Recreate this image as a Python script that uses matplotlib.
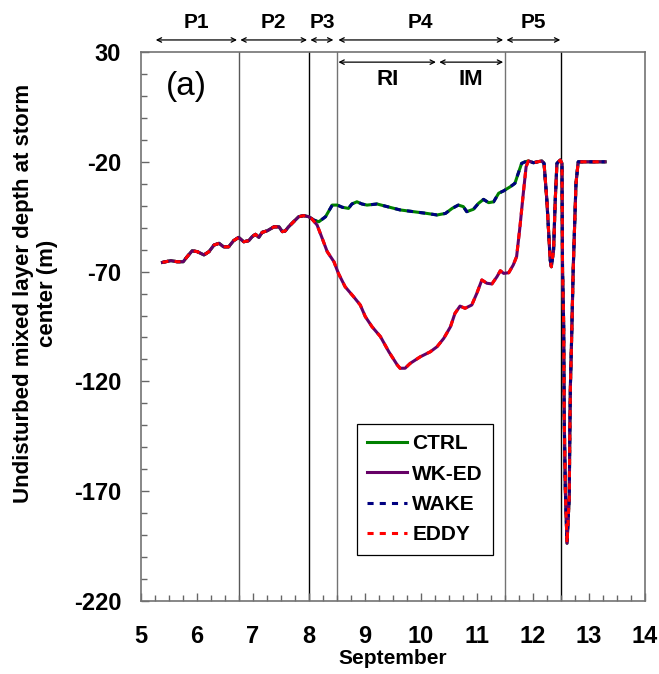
import numpy as np
import matplotlib
matplotlib.use("Agg")
import matplotlib.pyplot as plt
from matplotlib.ticker import MultipleLocator

plt.rcParams['font.family'] = ['Liberation Sans', 'DejaVu Sans']
plt.rcParams['axes.unicode_minus'] = False

# ---------------------------------------------------------------
# data (day of September, depth in m)
# ---------------------------------------------------------------
# common part before the split (5.4 - 8.0)
early_day = [5.39, 5.54, 5.65, 5.76, 5.83, 5.92, 6.01, 6.13, 6.22, 6.31, 6.40,
             6.48, 6.57, 6.66, 6.75, 6.84, 6.93, 6.99, 7.05, 7.11, 7.17, 7.26,
             7.38, 7.47, 7.53, 7.58, 7.64, 7.73, 7.82, 7.91, 8.00, 8.05]
early_val = [-65.8, -65.0, -65.5, -65.5, -63.2, -60.5, -60.9, -62.4, -60.9, -57.9,
             -57.1, -58.7, -58.7, -55.9, -54.4, -56.4, -55.9, -54.1, -53.0, -54.4,
             -52.1, -51.4, -49.6, -49.6, -51.8, -51.5, -49.6, -47.3, -45.0, -44.5,
             -45.0, -45.8]

# CTRL / WAKE branch (upper)
upper_day = [8.09, 8.18, 8.30, 8.42, 8.51, 8.60, 8.71, 8.77, 8.86, 8.95, 9.04,
             9.22, 9.40, 9.63, 9.87, 10.11, 10.29, 10.44, 10.56, 10.67, 10.76,
             10.82, 10.94, 11.03, 11.12, 11.21, 11.30, 11.39, 11.48, 11.60,
             11.68, 11.74, 11.80, 11.86]
upper_val = [-46.5, -47.3, -45.0, -39.7, -39.7, -40.7, -41.2, -39.2, -38.2, -39.2,
             -39.7, -39.2, -40.4, -41.9, -42.7, -43.5, -44.2, -43.5, -41.2, -39.7,
             -40.4, -42.7, -41.6, -38.9, -37.1, -38.6, -38.2, -34.3, -33.2, -31.3,
             -29.8, -25.2, -20.7, -20.0]

# WK-ED / EDDY branch (lower)
lower_day = [8.15, 8.24, 8.33, 8.45, 8.53, 8.65, 8.80, 8.92, 9.01, 9.13, 9.28,
             9.43, 9.58, 9.63, 9.72, 9.81, 9.99, 10.17, 10.29, 10.41, 10.53,
             10.61, 10.70, 10.79, 10.91, 11.00, 11.09, 11.18, 11.27, 11.36,
             11.42, 11.48, 11.57, 11.65, 11.71, 11.77, 11.83, 11.88]
lower_val = [-48.8, -54.8, -60.9, -65.5, -70.8, -76.9, -81.4, -85.2, -90.5, -95.1,
             -99.6, -106.5, -112.5, -114.0, -114.0, -111.8, -108.8, -106.5, -104.2,
             -100.4, -95.1, -89.0, -85.7, -86.7, -85.2, -79.9, -73.8, -75.3, -75.6,
             -72.3, -69.6, -70.8, -70.5, -67.0, -63.2, -49.6, -34.3, -22.2]

# common part after the merge (11.9 - 13.3)
late_day = [11.92, 12.01, 12.16, 12.20, 12.25, 12.31, 12.33, 12.37, 12.40, 12.43,
            12.49, 12.52, 12.53, 12.55, 12.56, 12.58, 12.61, 12.65, 12.66, 12.67,
            12.69, 12.72, 12.77, 12.81, 13.00, 13.29]
late_val = [-19.6, -20.4, -19.6, -20.7, -37.4, -64.7, -67.8, -60.2, -37.4, -20.7,
            -19.2, -20.7, -69.3, -93.5, -136.0, -169.5, -193.7, -172.5, -143.7,
            -122.4, -102.6, -69.3, -29.8, -20.0, -20.0, -20.0]

periods = ["P1", "P2", "P3", "P4", "P5"]
period_start = [5.27, 6.78, 8.03, 8.53, 11.53]
period_end = [6.72, 7.97, 8.44, 11.47, 12.49]
period_lines = [6.75, 8.0, 8.5, 11.5, 12.5]
stages = ["RI", "IM"]
stage_edges = [8.5, 10.3, 11.5]

ctrl_x = np.concatenate([early_day, upper_day, late_day])
ctrl_y = np.concatenate([early_val, upper_val, late_val])
wked_x = np.concatenate([early_day, lower_day, late_day])
wked_y = np.concatenate([early_val, lower_val, late_val])

# ---------------------------------------------------------------
# plot
# ---------------------------------------------------------------
fig = plt.figure(figsize=(6.59, 6.74), dpi=100)
ax = fig.add_axes([0.2134, 0.1083, 0.7652, 0.8145])

for xv, c in zip(period_lines, ["0.35", "black", "0.45", "0.45", "black"]):
    ax.axvline(xv, color=c, lw=1.0, zorder=1)

ax.plot(ctrl_x, ctrl_y, color="#008000", lw=2.2, label="CTRL", zorder=3)
ax.plot(wked_x, wked_y, color="#660066", lw=2.2, label="WK-ED", zorder=3)
ax.plot(ctrl_x, ctrl_y, color="#000080", lw=2.2, ls=(0, (2, 2)), label="WAKE", zorder=4)
ax.plot(wked_x, wked_y, color="#ff0000", lw=2.2, ls=(0, (2, 2)), label="EDDY", zorder=4)

ax.set_xlim(5, 14)
ax.set_ylim(-220, 30)
ax.set_xticks(np.arange(5, 15, 1))
ax.set_yticks(np.arange(-220, 31, 50))
ax.xaxis.set_minor_locator(MultipleLocator(0.25))
ax.yaxis.set_minor_locator(MultipleLocator(10))
ax.tick_params(which="major", direction="in", length=6, width=1, color="0.4",
               labelsize=17, top=False, right=False)
ax.tick_params(which="minor", direction="in", length=4, width=1, color="0.4",
               top=False, right=False)
ax.tick_params(axis="x", pad=17)
ax.tick_params(axis="y", pad=14)
for lab in ax.get_xticklabels() + ax.get_yticklabels():
    lab.set_fontweight("bold")
for s in ax.spines.values():
    s.set_color("0.45")
    s.set_linewidth(1.2)

ax.set_xlabel("September", fontsize=15, fontweight="bold", labelpad=1)
ax.set_ylabel("Undisturbed mixed layer depth at storm\ncenter (m)",
              fontsize=16, fontweight="bold")
ax.yaxis.set_label_coords(-0.163, 0.56)

# period arrows above the axes
arr = dict(arrowstyle="<->", color="black", lw=0.9, shrinkA=0, shrinkB=0,
           mutation_scale=8)
for p, x0, x1 in zip(periods, period_start, period_end):
    ax.annotate("", xy=(x0, 35.5), xytext=(x1, 35.5), arrowprops=arr,
                annotation_clip=False)
    ax.text((x0 + x1) / 2, 43.5, p, ha="center", va="center", fontsize=15,
            fontweight="bold", clip_on=False)

for i, s in enumerate(stages):
    x0, x1 = stage_edges[i], stage_edges[i + 1]
    ax.annotate("", xy=(x0 + 0.03, 25.4), xytext=(x1 - 0.03, 25.4), arrowprops=arr)
    ax.text((x0 + x1) / 2, 17.5, s, ha="center", va="center", fontsize=16,
            fontweight="bold")

ax.text(5.82, 14.5, "(a)", ha="center", va="center", fontsize=24)

leg = ax.legend(loc="lower left", bbox_to_anchor=(0.429, 0.084), fancybox=False,
                edgecolor="black", framealpha=1, handlelength=1.9,
                prop={"size": 15, "weight": "bold"}, borderpad=0.5,
                labelspacing=0.55, handletextpad=0.25, borderaxespad=0)
leg.get_frame().set_linewidth(0.9)

fig.savefig("out.png", dpi=100)
